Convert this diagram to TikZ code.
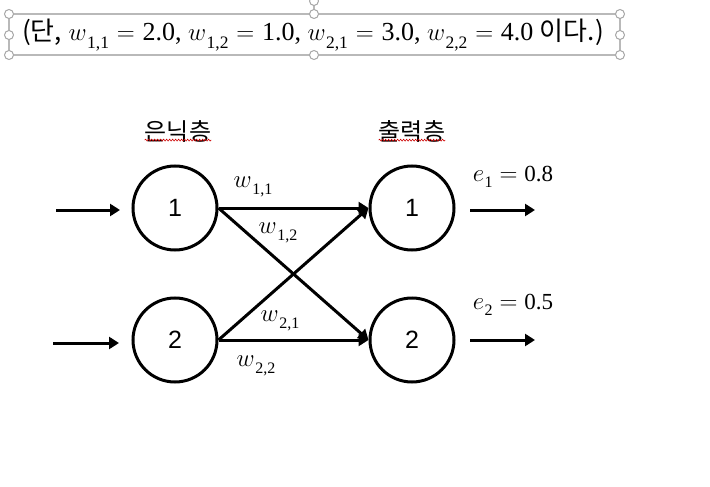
\documentclass[tikz,border=0pt]{standalone}
\usepackage{fontspec}
\setmainfont{Liberation Serif}
\newfontfamily\krfont{Noto Sans CJK KR}
\newfontfamily\numfont{Liberation Sans}
\newcommand{\mysubw}[1]{$w$\kern0.5pt\raisebox{-0.28em}{\fontsize{16}{16}\selectfont #1}}
\newcommand{\mysube}[1]{$e$\kern0.5pt\raisebox{-0.28em}{\fontsize{16}{16}\selectfont #1}}
\newcommand{\mysubwb}[1]{$w$\kern0.5pt\raisebox{-0.28em}{\fontsize{17.5}{17.5}\selectfont #1}}
\newcommand{\myeq}{\hspace{0.3em}$=$\hspace{0.3em}}
\usetikzlibrary{arrows.meta,decorations.pathmorphing}
\begin{document}
\begin{tikzpicture}[x=1pt,y=-1pt,
  neuron/.style={circle,draw,line width=3pt,minimum size=84pt,inner sep=0pt,font=\numfont\fontsize{25}{28}\selectfont},
  conn/.style={line width=3pt,-{Triangle[length=10pt,width=12pt]}},
  wlabel/.style={font=\fontsize{23}{26}\selectfont,inner sep=0pt},
  layer/.style={font=\krfont\fontsize{24}{28}\selectfont,inner sep=0pt},
  squig/.style={red!80!black,line width=0.6pt,decorate,decoration={snake,amplitude=0.9pt,segment length=3pt}},
  handle/.style={circle,draw=gray!70,fill=white,line width=1pt,minimum size=9pt,inner sep=0pt},
  selbox/.style={draw=gray!55,line width=1.2pt}]
\useasboundingbox (0,0) rectangle (710,487);
% selection frame
\draw[selbox] (9,14) rectangle (620,55);
\draw[selbox] (314,5) -- (314,14);
\node[handle] (r0) at (314,1) {};
\foreach \x/\y [count=\i] in {9/14,314/14,620/14,9/35,620/35,9/55,314/55,620/55}
  \node[handle] (hd\i) at (\x,\y) {};
\node[inner sep=0pt,font=\fontsize{26}{30}\selectfont] (note) at (313,35)
  {{\krfont (단,} \mysubwb{1,1}\myeq 2.0, \mysubwb{1,2}\myeq 1.0, \mysubwb{2,1}\myeq 3.0, \mysubwb{2,2}\myeq 4.0 {\krfont 이다.)}};
% layer labels
\node[layer] (lh) at (178,131) {은닉층};
\node[layer] (lo) at (412,131) {출력층};
\draw[squig] ([yshift=2pt]lh.south west) -- ([yshift=2pt]lh.south east);
\draw[squig] ([yshift=2pt]lo.south west) -- ([yshift=2pt]lo.south east);
% neurons
\node[neuron] (h1) at (175,208) {1};
\node[neuron] (h2) at (175,340) {2};
\node[neuron] (o1) at (412,208) {1};
\node[neuron] (o2) at (412,340) {2};
% inputs/outputs
\coordinate (i1) at (56,210);
\coordinate (i1e) at (120,210);
\coordinate (i2) at (53,343);
\coordinate (i2e) at (119,343);
\coordinate (e1s) at (470,210);
\coordinate (e1e) at (535,210);
\coordinate (e2s) at (470,340);
\coordinate (e2e) at (535,340);
\draw[conn] (i1) -- (i1e);
\draw[conn] (i2) -- (i2e);
\draw[conn] (e1s) -- (e1e);
\draw[conn] (e2s) -- (e2e);
% connections
\draw[conn] (h1.east) -- (o1.west);
\draw[conn] (h1.east) -- (o2.west);
\draw[conn] (h2.east) -- (o1.west);
\draw[conn] (h2.east) -- (o2.west);
% weight labels
\node[wlabel] (w11) at (253,187) {\mysubw{1,1}};
\node[wlabel] (w12) at (278,233) {\mysubw{1,2}};
\node[wlabel] (w21) at (280,321) {\mysubw{2,1}};
\node[wlabel] (w22) at (256,366) {\mysubw{2,2}};
\node[wlabel] (e1) at (513,177) {\mysube{1}\myeq 0.8};
\node[wlabel] (e2) at (513,305) {\mysube{2}\myeq 0.5};
\end{tikzpicture}
\end{document}
